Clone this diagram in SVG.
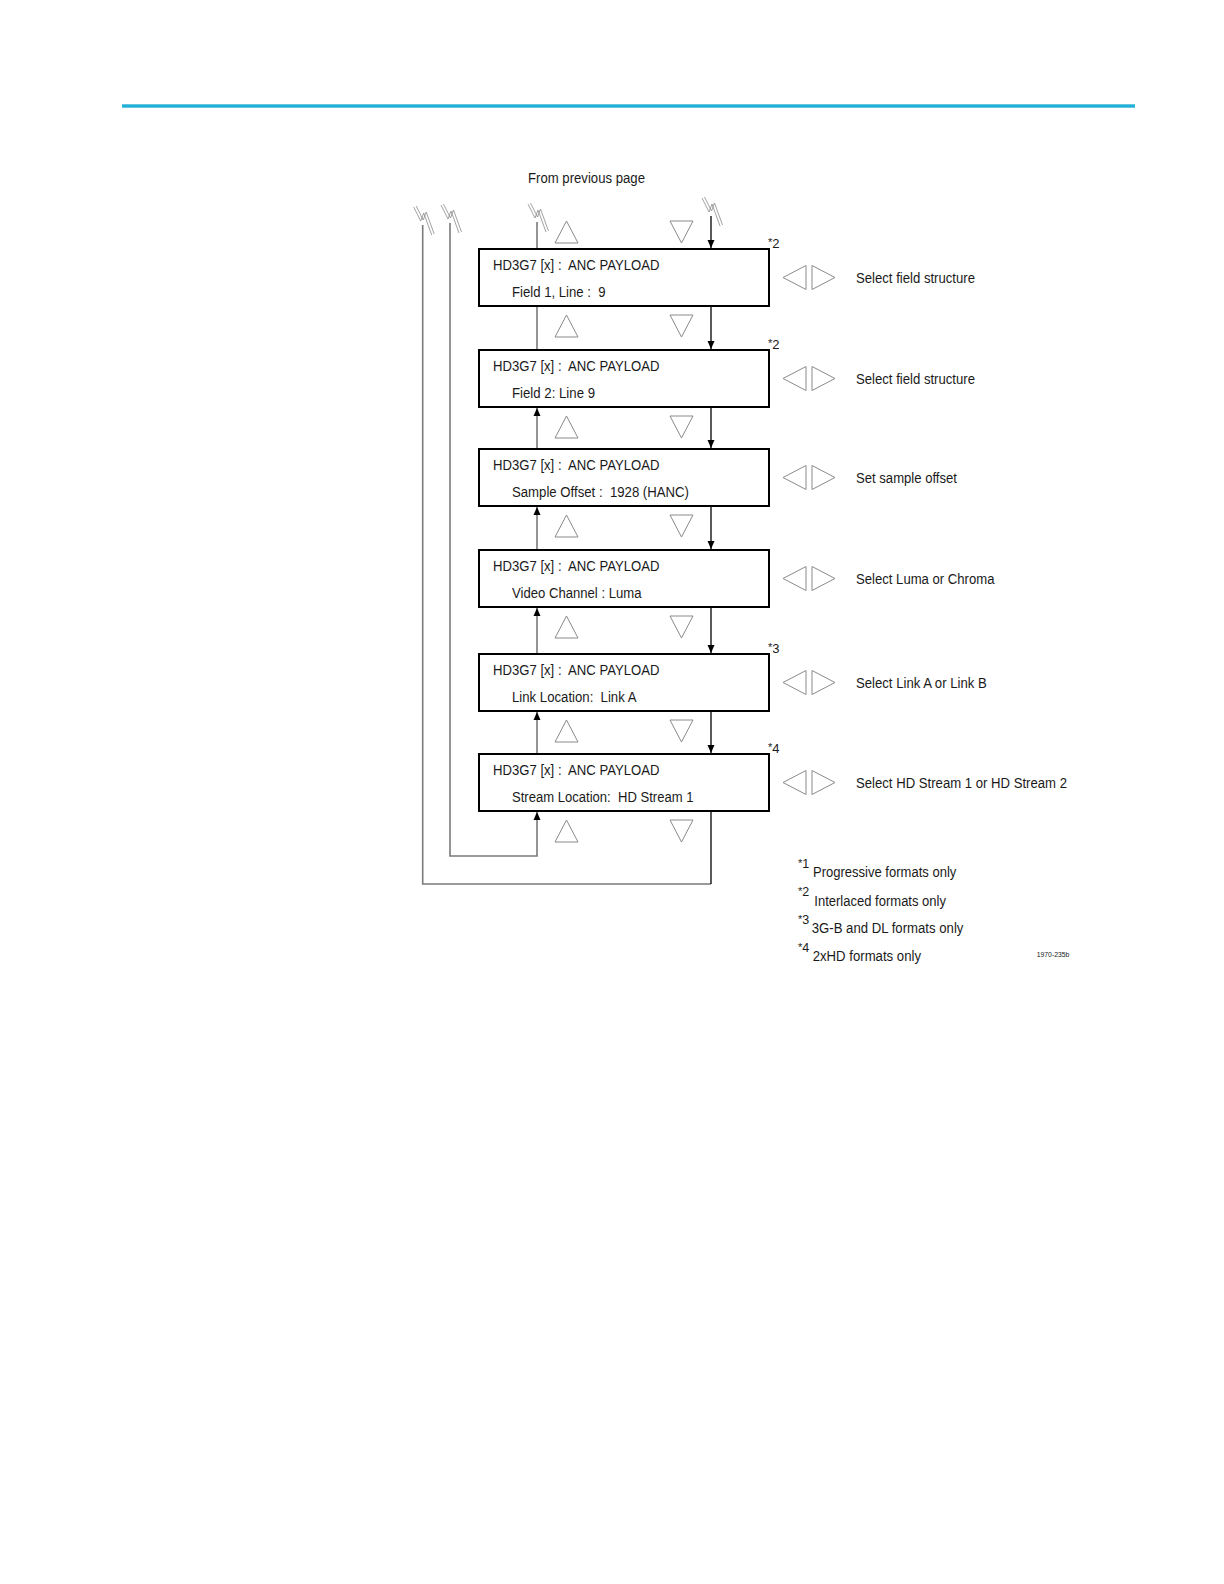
<svg xmlns="http://www.w3.org/2000/svg" width="1224" height="1584" viewBox="0 0 1224 1584">
<style>
text{font-family:"Liberation Sans",Arial,sans-serif;fill:#1a1a1a;white-space:pre}
.t{font-size:14px}
.box{fill:#fff;stroke:#000;stroke-width:2}
.tri{fill:none;stroke:#8a8a8a;stroke-width:1}
.blk{fill:none;stroke:#000;stroke-width:1.3}
.gry{fill:none;stroke:#7a7a7a;stroke-width:1.6}
.brk{fill:none;stroke:#8a8a8a;stroke-width:0.8}
.sup{font-size:11px}
.mark{font-size:13px}
</style>
<defs>
<marker id="ah" markerWidth="8" markerHeight="10" refX="8" refY="3.5" orient="auto" markerUnits="userSpaceOnUse" viewBox="0 0 8 7">
<path d="M0,0 L8,3.5 L0,7 Z" fill="#000"/>
</marker>
<g id="brk">
<path class="brk" d="M-9,-18 L-2,-4 L1,-12 L9,10"/>
<path class="brk" d="M-6.5,-19 L0.5,-5 L3.5,-13 L11.5,9"/>
</g>
<g id="up"><polygon class="tri" points="0,0 -11.5,22 11.5,22"/></g>
<g id="dn"><polygon class="tri" points="-11.5,0 11.5,0 0,22"/></g>
<g id="lr">
<polygon class="tri" points="0,0 23,-12 23,12"/>
<polygon class="tri" points="29,-12 29,12 52,0"/>
</g>
</defs>

<rect x="122" y="104.3" width="1013" height="3.4" fill="#22b0d8"/>

<text class="t" x="528" y="183" textLength="117" lengthAdjust="spacingAndGlyphs">From previous page</text>

<g id="connectors">
<use href="#brk" x="422.7" y="225"/>
<use href="#brk" x="450" y="223"/>
<use href="#brk" x="537" y="222"/>
<use href="#brk" x="711" y="216"/>
<path class="gry" d="M537,222 V249"/>
<path class="gry" d="M537,306 V350"/>
<path class="gry" d="M537,449 V408" marker-end="url(#ah)"/>
<path class="gry" d="M537,550 V507" marker-end="url(#ah)"/>
<path class="gry" d="M537,654 V608" marker-end="url(#ah)"/>
<path class="gry" d="M537,754 V712" marker-end="url(#ah)"/>
<path class="gry" d="M450,223 V856 H537 V812" marker-end="url(#ah)"/>
<path class="gry" d="M711,884 H422.7 V225"/>
<path class="blk" d="M711,811 V884"/>
<path class="blk" d="M711,216 V248" marker-end="url(#ah)"/>
<path class="blk" d="M711,306 V349" marker-end="url(#ah)"/>
<path class="blk" d="M711,407 V448" marker-end="url(#ah)"/>
<path class="blk" d="M711,506 V549" marker-end="url(#ah)"/>
<path class="blk" d="M711,607 V653" marker-end="url(#ah)"/>
<path class="blk" d="M711,711 V753" marker-end="url(#ah)"/>
</g>

<g id="arrows-ud">
<use href="#up" x="566.5" y="221"/><use href="#dn" x="681.5" y="221"/>
<use href="#up" x="566.5" y="315"/><use href="#dn" x="681.5" y="315"/>
<use href="#up" x="566.5" y="416"/><use href="#dn" x="681.5" y="416"/>
<use href="#up" x="566.5" y="515"/><use href="#dn" x="681.5" y="515"/>
<use href="#up" x="566.5" y="616"/><use href="#dn" x="681.5" y="616"/>
<use href="#up" x="566.5" y="720"/><use href="#dn" x="681.5" y="720"/>
<use href="#up" x="566.5" y="820"/><use href="#dn" x="681.5" y="820"/>
</g>

<g id="node1">
<rect class="box" x="479" y="249" width="290" height="57"/>
<text class="t" x="493" y="269.5" textLength="166.5" lengthAdjust="spacingAndGlyphs">HD3G7 [x] :  ANC PAYLOAD</text>
<text class="t" x="512" y="297" textLength="93.5" lengthAdjust="spacingAndGlyphs">Field 1, Line :  9</text>
<text class="mark" x="768" y="248"><tspan class="sup" dy="-2">*</tspan><tspan dy="2">2</tspan></text>
<use href="#lr" x="783" y="277.5"/>
<text class="t" x="856" y="282.5" textLength="119" lengthAdjust="spacingAndGlyphs">Select field structure</text>
</g>

<g id="node2">
<rect class="box" x="479" y="350" width="290" height="57"/>
<text class="t" x="493" y="370.5" textLength="166.5" lengthAdjust="spacingAndGlyphs">HD3G7 [x] :  ANC PAYLOAD</text>
<text class="t" x="512" y="398" textLength="83" lengthAdjust="spacingAndGlyphs">Field 2: Line 9</text>
<text class="mark" x="768" y="349"><tspan class="sup" dy="-2">*</tspan><tspan dy="2">2</tspan></text>
<use href="#lr" x="783" y="378.5"/>
<text class="t" x="856" y="383.5" textLength="119" lengthAdjust="spacingAndGlyphs">Select field structure</text>
</g>

<g id="node3">
<rect class="box" x="479" y="449" width="290" height="57"/>
<text class="t" x="493" y="469.5" textLength="166.5" lengthAdjust="spacingAndGlyphs">HD3G7 [x] :  ANC PAYLOAD</text>
<text class="t" x="512" y="497" textLength="177" lengthAdjust="spacingAndGlyphs">Sample Offset :  1928 (HANC)</text>
<use href="#lr" x="783" y="477.5"/>
<text class="t" x="856" y="482.5" textLength="101" lengthAdjust="spacingAndGlyphs">Set sample offset</text>
</g>

<g id="node4">
<rect class="box" x="479" y="550" width="290" height="57"/>
<text class="t" x="493" y="570.5" textLength="166.5" lengthAdjust="spacingAndGlyphs">HD3G7 [x] :  ANC PAYLOAD</text>
<text class="t" x="512" y="598" textLength="129.5" lengthAdjust="spacingAndGlyphs">Video Channel : Luma</text>
<use href="#lr" x="783" y="578.5"/>
<text class="t" x="856" y="583.5" textLength="138.5" lengthAdjust="spacingAndGlyphs">Select Luma or Chroma</text>
</g>

<g id="node5">
<rect class="box" x="479" y="654" width="290" height="57"/>
<text class="t" x="493" y="674.5" textLength="166.5" lengthAdjust="spacingAndGlyphs">HD3G7 [x] :  ANC PAYLOAD</text>
<text class="t" x="512" y="702" textLength="124.5" lengthAdjust="spacingAndGlyphs">Link Location:  Link A</text>
<text class="mark" x="768" y="653"><tspan class="sup" dy="-2">*</tspan><tspan dy="2">3</tspan></text>
<use href="#lr" x="783" y="682.5"/>
<text class="t" x="856" y="687.5" textLength="130.7" lengthAdjust="spacingAndGlyphs">Select Link A or Link B</text>
</g>

<g id="node6">
<rect class="box" x="479" y="754" width="290" height="57"/>
<text class="t" x="493" y="774.5" textLength="166.5" lengthAdjust="spacingAndGlyphs">HD3G7 [x] :  ANC PAYLOAD</text>
<text class="t" x="512" y="802" textLength="181.5" lengthAdjust="spacingAndGlyphs">Stream Location:  HD Stream 1</text>
<text class="mark" x="768" y="753"><tspan class="sup" dy="-2">*</tspan><tspan dy="2">4</tspan></text>
<use href="#lr" x="783" y="782.5"/>
<text class="t" x="856" y="787.5" textLength="211" lengthAdjust="spacingAndGlyphs">Select HD Stream 1 or HD Stream 2</text>
</g>

<g id="footnotes">
<text class="sup" x="798" y="867"><tspan>*</tspan><tspan font-size="12.5" dy="1">1</tspan></text>
<text class="t" x="813" y="877" textLength="143.3" lengthAdjust="spacingAndGlyphs">Progressive formats only</text>
<text class="sup" x="798" y="895"><tspan>*</tspan><tspan font-size="12.5" dy="1">2</tspan></text>
<text class="t" x="814.3" y="905.5" textLength="131.7" lengthAdjust="spacingAndGlyphs">Interlaced formats only</text>
<text class="sup" x="798" y="923"><tspan>*</tspan><tspan font-size="12.5" dy="1">3</tspan></text>
<text class="t" x="811.7" y="933.3" textLength="151.7" lengthAdjust="spacingAndGlyphs">3G-B and DL formats only</text>
<text class="sup" x="798" y="951"><tspan>*</tspan><tspan font-size="12.5" dy="1">4</tspan></text>
<text class="t" x="812.7" y="961" textLength="108.3" lengthAdjust="spacingAndGlyphs">2xHD formats only</text>
<text x="1036.7" y="956.7" font-size="7" textLength="32.7" lengthAdjust="spacingAndGlyphs">1970-235b</text>
</g>
</svg>
